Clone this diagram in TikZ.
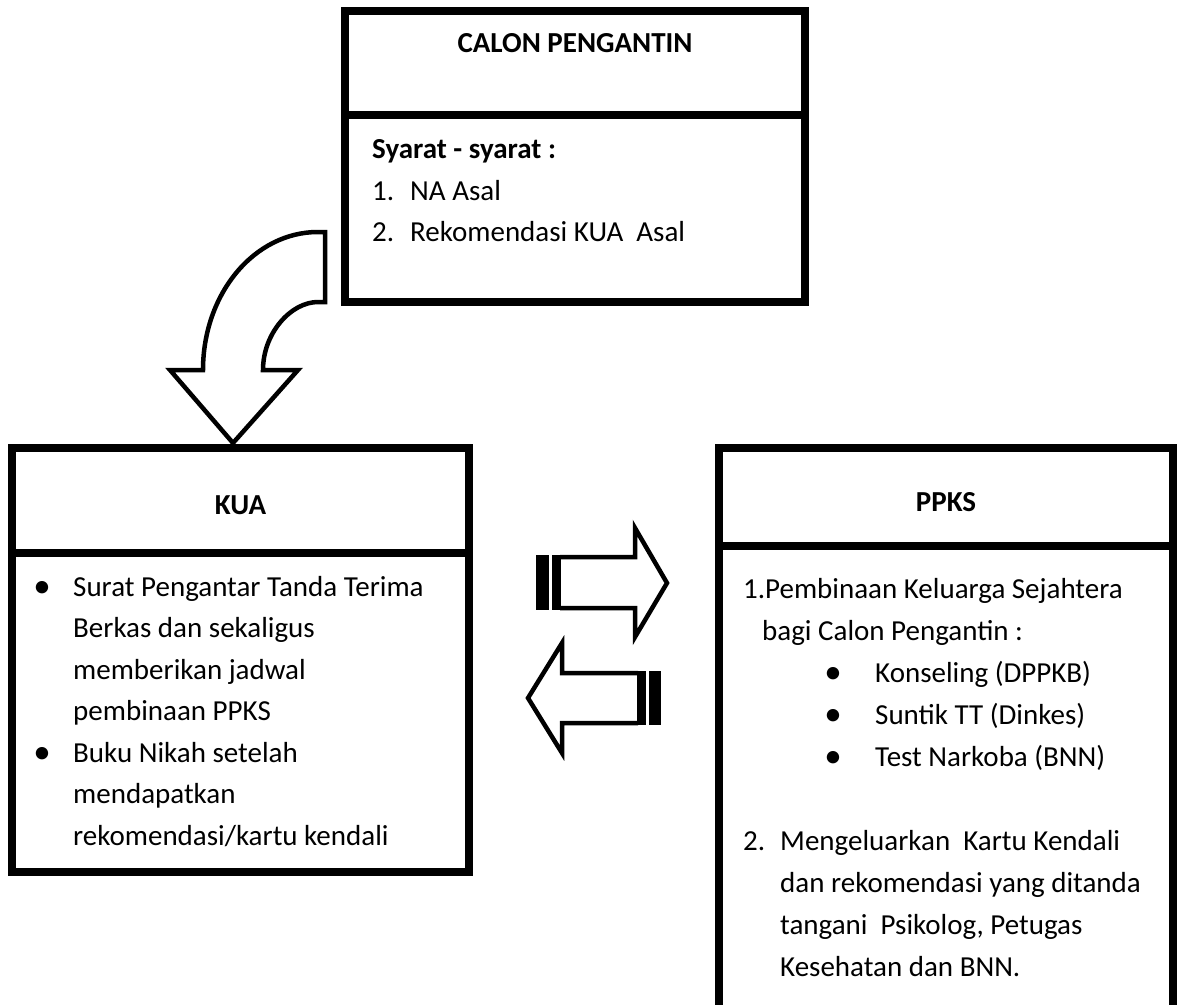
\documentclass[tikz,border=0pt]{standalone}
\usepackage{fontspec}
\setmainfont{Carlito}
\usetikzlibrary{positioning}

\tikzset{
  box/.style={draw, line width=8pt, inner sep=0pt, outer sep=0pt},
  txt/.style={anchor=base west, inner sep=0pt, font=\fontsize{29}{35}\selectfont},
  hdr/.style={anchor=base, inner sep=0pt, font=\fontsize{29}{35}\selectfont\bfseries},
  dot/.style={anchor=base, inner sep=0pt, font=\fontsize{35}{35}\selectfont},
  outline/.style={draw, line width=4.5pt, line join=miter},
  stripe/.style={fill=black}
}

\begin{document}
\begin{tikzpicture}[x=1pt,y=-1pt]
\useasboundingbox (0,0) rectangle (1177,1004);

% calon pengantin
\node[box, minimum width=460, minimum height=104] (calonhead) at (575,63) {};
\node[box, minimum width=460, minimum height=187, below=0pt of calonhead] (calonbody) {};
\node[hdr] (calonlbl) at (575,52) {CALON PENGANTIN};
\node[txt] (syarat) at (372,158) {\bfseries Syarat - syarat :};
\node[txt] (num1) at (372,200) {1.};
\node[txt] (nasal) at (410,200) {NA Asal};
\node[txt] (num2) at (372,241) {2.};
\node[txt] (rekasal) at (410,241) {Rekomendasi KUA\ \ Asal};

% kua
\node[box, minimum width=457, minimum height=105] (kuahead) at (240.5,500.5) {};
\node[box, minimum width=457, minimum height=319, below=0pt of kuahead] (kuabody) {};
\node[hdr] (kualbl) at (240.5,514) {KUA};
\node[dot] (kuadot1) at (42,597) {•};
\node[txt] (kua1) at (73,596) {Surat Pengantar Tanda Terima};
\node[txt] (kua2) at (73,637.5) {Berkas dan sekaligus};
\node[txt] (kua3) at (73,679) {memberikan jadwal};
\node[txt] (kua4) at (73,720.5) {pembinaan PPKS};
\node[dot] (kuadot2) at (42,763) {•};
\node[txt] (kua5) at (73,762) {Buku Nikah setelah};
\node[txt] (kua6) at (73,803.5) {mendapatkan};
\node[txt] (kua7) at (73,845) {rekomendasi/kartu kendali};

% ppks
\node[box, minimum width=454, minimum height=98] (ppkshead) at (946,497) {};
\node[box, minimum width=454, minimum height=480, below=0pt of ppkshead] (ppksbody) {};
\node[hdr] (ppkslbl) at (946,511) {PPKS};
\node[txt] (ppks1) at (743,598) {1.Pembinaan Keluarga Sejahtera};
\node[txt] (ppks2) at (762,640) {bagi Calon Pengantin :};
\node[dot] (ppksdot1) at (833,683) {•};
\node[txt] (ppks3) at (875,682) {Konseling (DPPKB)};
\node[dot] (ppksdot2) at (833,725) {•};
\node[txt] (ppks4) at (875,724) {Suntik TT (Dinkes)};
\node[dot] (ppksdot3) at (833,767) {•};
\node[txt] (ppks5) at (875,766) {Test Narkoba (BNN)};
\node[txt] (num3) at (743,850) {2.};
\node[txt] (ppks6) at (780,850) {Mengeluarkan\ \ Kartu Kendali};
\node[txt] (ppks7) at (780,892) {dan rekomendasi yang ditanda};
\node[txt] (ppks8) at (780,934) {tangani\ \ Psikolog, Petugas};
\node[txt] (ppks9) at (780,976) {Kesehatan dan BNN.};

% curved arrow
\draw[outline] (325,232) -- (318,232) .. controls (254,232) and (203,294) .. (203,370)
  -- (170,370) -- (233,443) -- (298,370) -- (263,370)
  .. controls (263,333) and (291,302) .. (318,302) -- (325,302) -- cycle;

% striped arrows
\draw[outline] (560,557) -- (635,557) -- (635,528) -- (667,583) -- (635,637) -- (635,608) -- (560,608);
\fill[stripe] (536,554.75) rectangle (548.5,610.25);
\fill[stripe] (551.5,554.75) rectangle (561,610.25);
\draw[outline] (638,673) -- (562,673) -- (562,643) -- (528,698) -- (562,753) -- (562,723) -- (638,723);
\fill[stripe] (637,670.75) rectangle (645.5,725.25);
\fill[stripe] (648.5,670.75) rectangle (661,725.25);
\end{tikzpicture}
\end{document}
